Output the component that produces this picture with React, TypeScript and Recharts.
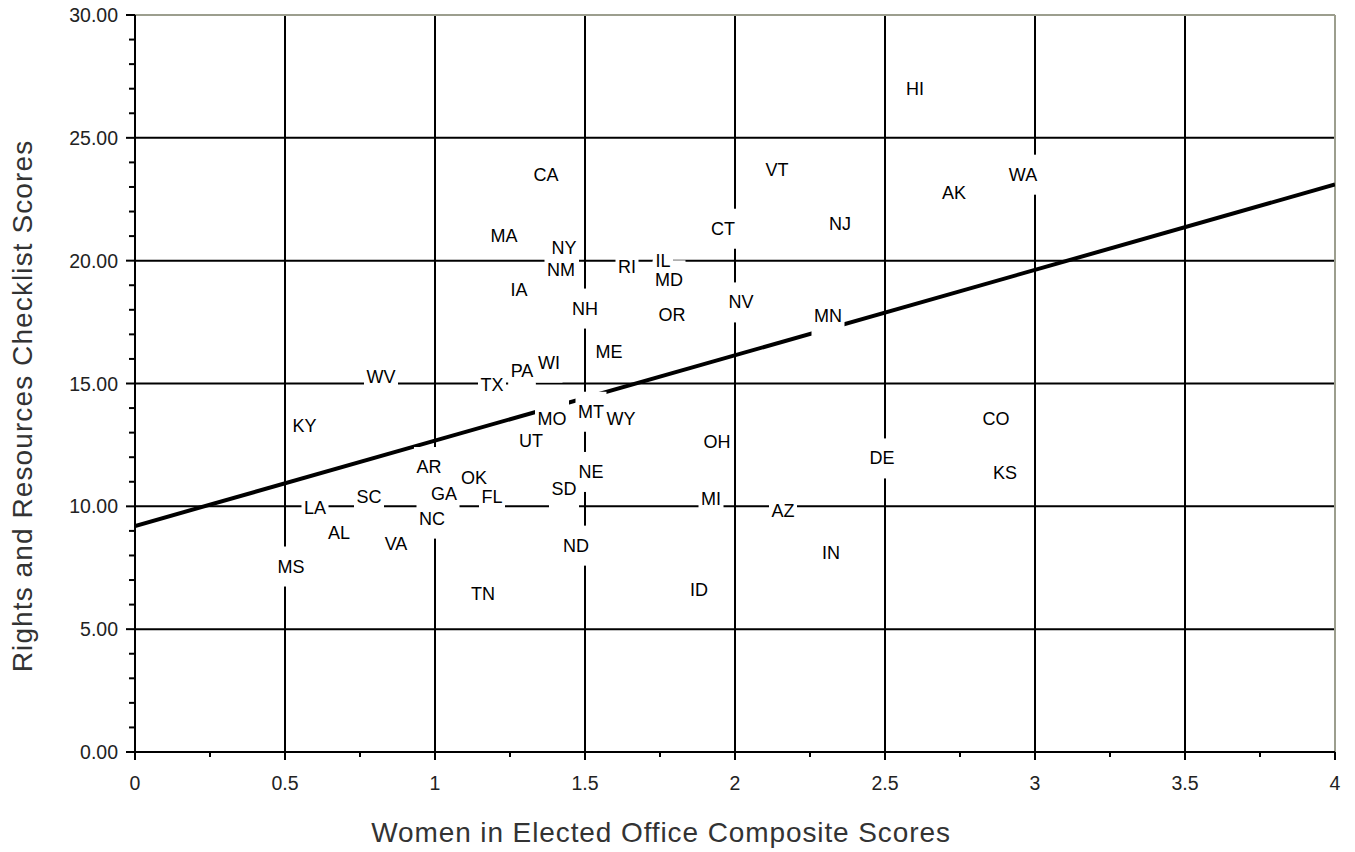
import React from 'react'
import {
  ScatterChart,
  Scatter,
  XAxis,
  YAxis,
  CartesianGrid,
  ReferenceLine,
  Label,
} from 'recharts'

// state codes with women-in-office score (x) and rights checklist score (y)
const states = [
  'HI', 'VT', 'CA', 'WA', 'AK', 'NJ', 'CT', 'MA', 'NY', 'NM',
  'RI', 'IL', 'MD', 'IA', 'NV', 'NH', 'OR', 'MN', 'ME', 'WI',
  'PA', 'WV', 'TX', 'MT', 'WY', 'MO', 'KY', 'CO', 'UT', 'OH',
  'DE', 'AR', 'NE', 'KS', 'OK', 'SC', 'GA', 'FL', 'SD', 'MI',
  'LA', 'AZ', 'NC', 'AL', 'VA', 'ND', 'IN', 'MS', 'TN', 'ID',
]
const officeScores = [
  2.6, 2.14, 1.37, 2.96, 2.73, 2.35, 1.96, 1.23, 1.43, 1.42,
  1.64, 1.76, 1.78, 1.28, 2.02, 1.5, 1.79, 2.31, 1.58, 1.38,
  1.29, 0.82, 1.19, 1.52, 1.62, 1.39, 0.565, 2.87, 1.32, 1.94,
  2.49, 0.98, 1.52, 2.9, 1.13, 0.78, 1.03, 1.19, 1.43, 1.92,
  0.6, 2.16, 0.99, 0.68, 0.87, 1.47, 2.32, 0.52, 1.16, 1.88,
]
const checklistScores = [
  27.0, 23.7, 23.5, 23.5, 22.75, 21.5, 21.3, 21.0, 20.5, 19.6,
  19.75, 20.0, 19.2, 18.8, 18.3, 18.05, 17.8, 17.75, 16.3, 15.85,
  15.5, 15.25, 14.95, 13.85, 13.55, 13.55, 13.25, 13.55, 12.65, 12.6,
  11.95, 11.6, 11.4, 11.35, 11.15, 10.4, 10.5, 10.4, 10.7, 10.3,
  9.95, 9.8, 9.5, 8.9, 8.45, 8.4, 8.1, 7.55, 6.45, 6.6,
]

// fitted trend line end points
const trendX = [0, 4]
const trendY = [9.2, 23.1]

const yTicks = Array.from({ length: 31 }, (_, i) => i)
const xTicks = Array.from({ length: 17 }, (_, i) => i * 0.25)

const points = states.map((s, i) => ({
  state: s,
  x: officeScores[i],
  y: checklistScores[i],
}))
const trend = trendX.map((x, i) => ({ x, y: trendY[i] }))

const FONT = '"Liberation Sans", Arial, sans-serif'
const LABEL_SIZE = 18

let ctx: CanvasRenderingContext2D | null = null
const textWidth = (t: string) => {
  if (!ctx) ctx = document.createElement('canvas').getContext('2d')
  if (!ctx) return t.length * 12
  ctx.font = `${LABEL_SIZE}px ${FONT}`
  return ctx.measureText(t).width
}

const LabelBox = (props: any) => {
  const { cx, cy, payload } = props
  const w = textWidth(payload.state) + 5
  return <rect x={cx - w / 2} y={cy - 20} width={w} height={40} fill='#fff' />
}

const LabelText = (props: any) => {
  const { cx, cy, payload } = props
  return (
    <text
      x={cx}
      y={cy}
      textAnchor='middle'
      dominantBaseline='central'
      fontFamily={FONT}
      fontSize={LABEL_SIZE}
      fill='#000'
    >
      {payload.state}
    </text>
  )
}

const YTick = (props: any) => {
  const { x, y, payload } = props
  const major = payload.value % 5 === 0
  return (
    <g>
      <line x1={x} x2={x - (major ? 9 : 6)} y1={y} y2={y} stroke='#000' strokeWidth={2} />
      {major && (
        <text
          x={x - 17}
          y={y}
          textAnchor='end'
          dominantBaseline='central'
          fontFamily={FONT}
          fontSize={19.5}
          fill='#222'
        >
          {payload.value.toFixed(2)}
        </text>
      )}
    </g>
  )
}

const XTick = (props: any) => {
  const { x, y, payload } = props
  const major = Math.abs(payload.value * 2 - Math.round(payload.value * 2)) < 1e-6
  return (
    <g>
      <line x1={x} x2={x} y1={y} y2={y + (major ? 8 : 5)} stroke='#000' strokeWidth={2} />
      {major && (
        <text
          x={x}
          y={y + 31}
          textAnchor='middle'
          dominantBaseline='central'
          fontFamily={FONT}
          fontSize={19.5}
          fill='#222'
        >
          {String(payload.value)}
        </text>
      )}
    </g>
  )
}

export default function App() {
  return (
    <div style={{ margin: '-8px 0 0 -8px', width: 1355, height: 852 }}>
      <ScatterChart
        width={1355}
        height={852}
        margin={{ top: 15, right: 20, left: 0, bottom: 0 }}
        style={{ background: '#fff' }}
      >
        <CartesianGrid
          stroke='#000'
          strokeWidth={2}
          horizontalValues={[5, 10, 15, 20, 25]}
          verticalValues={[0.5, 1, 1.5, 2, 2.5, 3, 3.5]}
        />
        <XAxis
          type='number'
          dataKey='x'
          domain={[0, 4]}
          ticks={xTicks}
          interval={0}
          tickSize={0}
          tickMargin={0}
          tickLine={false}
          tick={<XTick />}
          axisLine={{ stroke: '#000', strokeWidth: 2 }}
          height={100}
          allowDataOverflow
        >
          <Label
            content={() => (
              <text
                x={661}
                y={832}
                textAnchor='middle'
                dominantBaseline='central'
                fontFamily={FONT}
                fontSize={28}
                letterSpacing={0.9}
                fill='#333'
              >
                Women in Elected Office Composite Scores
              </text>
            )}
          />
        </XAxis>
        <YAxis
          type='number'
          dataKey='y'
          domain={[0, 30]}
          ticks={yTicks}
          interval={0}
          tickSize={0}
          tickMargin={0}
          tickLine={false}
          tick={<YTick />}
          axisLine={{ stroke: '#000', strokeWidth: 2 }}
          width={135}
          allowDataOverflow
        >
          <Label
            content={() => (
              <text
                x={22}
                y={406}
                transform='rotate(-90 22 406)'
                textAnchor='middle'
                dominantBaseline='central'
                fontFamily={FONT}
                fontSize={28}
                letterSpacing={1.1}
                fill='#333'
              >
                Rights and Resources Checklist Scores
              </text>
            )}
          />
        </YAxis>
        <ReferenceLine y={30} stroke='#9c9e8e' strokeWidth={2} />
        <ReferenceLine x={4} stroke='#9c9e8e' strokeWidth={2} />
        <Scatter
          data={trend}
          line={{ stroke: '#000', strokeWidth: 4 }}
          shape={() => <g />}
          isAnimationActive={false}
        />
        <Scatter data={points} shape={<LabelBox />} isAnimationActive={false} />
        <Scatter data={points} shape={<LabelText />} isAnimationActive={false} />
      </ScatterChart>
    </div>
  )
}
